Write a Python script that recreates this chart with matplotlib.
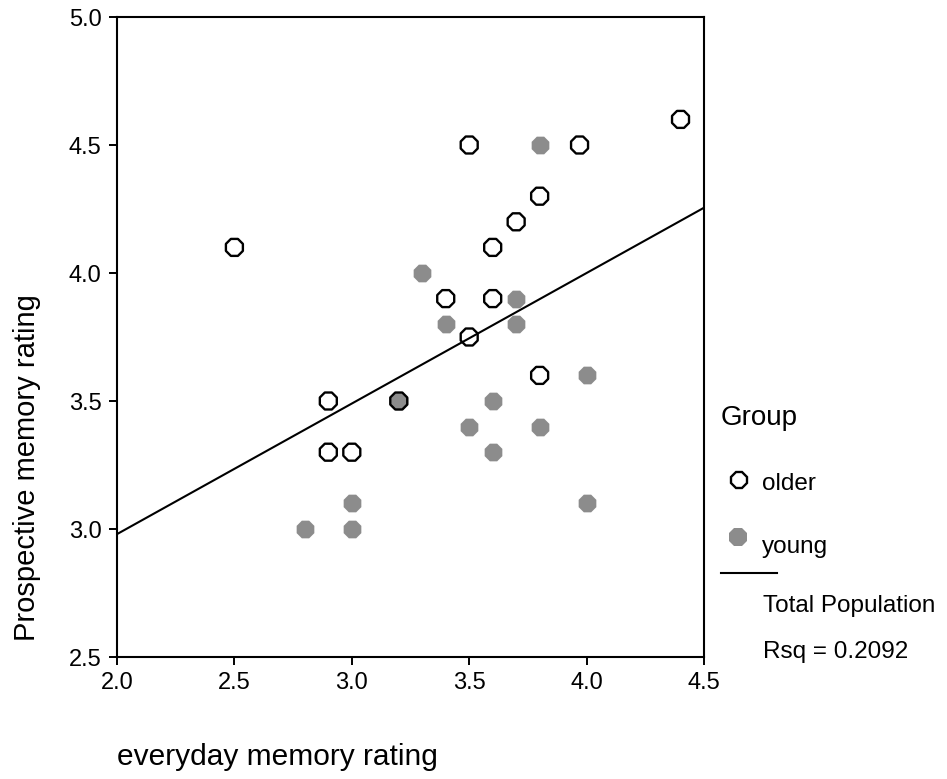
import matplotlib
matplotlib.use("Agg")
import matplotlib.pyplot as plt
from matplotlib.lines import Line2D

plt.rcParams['font.family'] = ['Liberation Sans', 'DejaVu Sans']

# older group (open circles)
older_x = [2.5, 2.9, 2.9, 3.0, 3.2, 3.4, 3.5, 3.5, 3.6, 3.6, 3.7, 3.8, 3.8, 3.97, 4.4]
older_y = [4.1, 3.5, 3.3, 3.3, 3.5, 3.9, 4.5, 3.75, 4.1, 3.9, 4.2, 4.3, 3.6, 4.5, 4.6]

# young group (grey dots)
young_x = [2.8, 3.0, 3.0, 3.2, 3.3, 3.4, 3.5, 3.6, 3.6, 3.7, 3.7, 3.8, 3.8, 4.0, 4.0]
young_y = [3.0, 3.0, 3.1, 3.5, 4.0, 3.8, 3.4, 3.5, 3.3, 3.9, 3.8, 4.5, 3.4, 3.6, 3.1]

# total population fit line, read at the axis ends
fit_x = [2.0, 4.5]
fit_y = [2.98, 4.255]
rsq = 0.2092

xticks = [2.0, 2.5, 3.0, 3.5, 4.0, 4.5]
yticks = [2.5, 3.0, 3.5, 4.0, 4.5, 5.0]

W, H = 947, 779
fig = plt.figure(figsize=(W / 100, H / 100), dpi=100)
ax = fig.add_axes([117 / W, 1 - 657 / H, 587 / W, 640 / H])

grey = '#8c8c8c'
ax.scatter(young_x, young_y, s=190, marker='8', color=grey, linewidths=0, zorder=3)
ax.scatter(older_x, older_y, s=175, marker='8', facecolors='none', edgecolors='black',
           linewidths=1.7, zorder=4)
ax.plot(fit_x, fit_y, color='black', lw=1.5, zorder=2)

ax.set_xlim(2.0, 4.5)
ax.set_ylim(2.5, 5.0)
ax.set_xticks(xticks)
ax.set_yticks(yticks)
ax.set_xticklabels([f'{t:.1f}' for t in xticks])
ax.set_yticklabels([f'{t:.1f}' for t in yticks])
ax.tick_params(direction='out', length=6, width=1.4, labelsize=17, pad=5,
               top=False, right=False)
for s in ax.spines.values():
    s.set_linewidth(1.5)

fig.text(117 / W, 1 - 765 / H, 'everyday memory rating', fontsize=21.5,
         ha='left', va='baseline')
fig.text(27 / W, 1 - 468 / H, 'Prospective memory rating', fontsize=21,
         rotation=90, ha='center', va='center')

# legend
fig.text(721 / W, 1 - 425 / H, 'Group', fontsize=20, ha='left', va='baseline')
fig.add_artist(Line2D([739 / W], [1 - 480 / H], marker='8', markersize=13,
                      markerfacecolor='none', markeredgecolor='black',
                      markeredgewidth=1.7, transform=fig.transFigure))
fig.text(762 / W, 1 - 490 / H, 'older', fontsize=17.5, ha='left', va='baseline')
fig.add_artist(Line2D([738 / W], [1 - 537 / H], marker='8', markersize=13.5,
                      markerfacecolor=grey, markeredgewidth=0,
                      transform=fig.transFigure))
fig.text(762 / W, 1 - 553 / H, 'young', fontsize=17.5, ha='left', va='baseline')
fig.add_artist(Line2D([721 / W, 777 / W], [1 - 573 / H, 1 - 573 / H],
                      color='black', lw=1.5, transform=fig.transFigure))
fig.text(763 / W, 1 - 612 / H, 'Total Population', fontsize=17.5, ha='left', va='baseline')
fig.text(763 / W, 1 - 658 / H, f'Rsq = {rsq:.4f}', fontsize=17.5, ha='left', va='baseline')

fig.savefig('out.png', dpi=100)
